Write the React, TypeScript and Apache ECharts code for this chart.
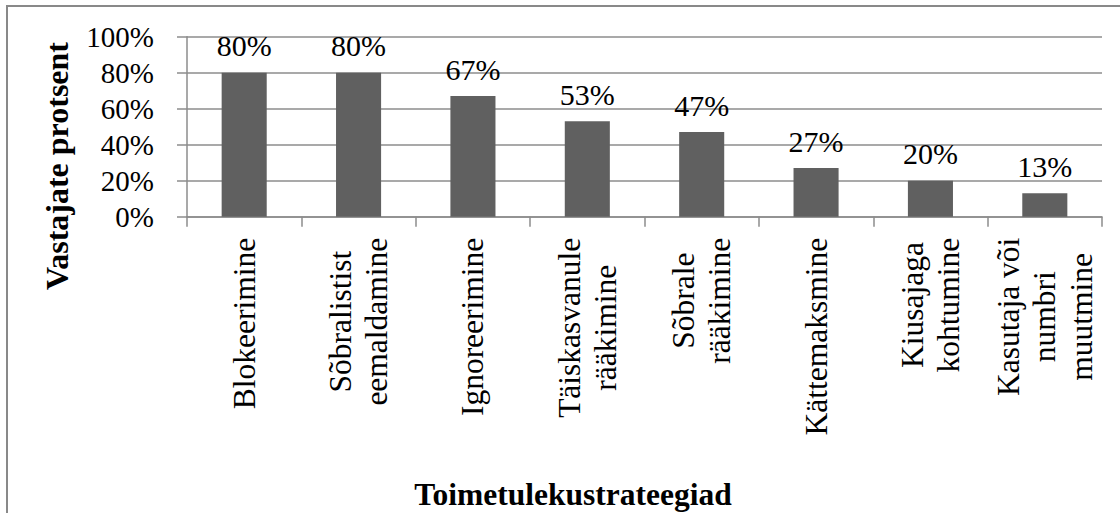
import React, { useEffect, useRef } from 'react';
import * as echarts from 'echarts';

const categories: string[] = [
  'Blokeerimine',
  'Sõbralistist\neemaldamine',
  'Ignoreerimine',
  'Täiskasvanule\nrääkimine',
  'Sõbrale\nrääkimine',
  'Kättemaksmine',
  'Kiusajaga\nkohtumine',
  'Kasutaja või\nnumbri\nmuutmine',
];
const values: number[] = [80, 80, 67, 53, 47, 27, 20, 13];
const yMin = 0;
const yMax = 100;
const yStep = 20;
const yAxisTitle = 'Vastajate protsent';
const xAxisTitle = 'Toimetulekustrateegiad';

const FONT = 'Liberation Serif';
const GRID_COLOR = '#8c8c8c';

export default function App() {
  const ref = useRef<HTMLDivElement>(null);
  useEffect(() => {
    if (!ref.current) return;
    const chart = echarts.init(ref.current, null, { renderer: 'svg' });
    chart.setOption({
      animation: false,
      backgroundColor: '#ffffff',
      textStyle: { fontFamily: FONT },
      grid: {
        left: 187,
        top: 36.7,
        width: 915,
        height: 180,
        containLabel: false,
        outerBoundsMode: 'none',
      },
      xAxis: {
        type: 'category',
        data: categories,
        boundaryGap: true,
        axisLine: { show: true, lineStyle: { color: GRID_COLOR, width: 1.5 } },
        axisTick: {
          show: true,
          length: 10,
          interval: 0,
          alignWithLabel: false,
          lineStyle: { color: GRID_COLOR, width: 1.5 },
        },
        axisLabel: {
          show: true,
          interval: 0,
          rotate: 90,
          margin: 21,
          color: '#000',
          fontFamily: FONT,
          fontSize: 31.5,
          formatter: (v: string) =>
            v
              .split('\n')
              .map((l) => `{c|${l}}`)
              .join('\n'),
          rich: {
            c: {
              align: 'center',
              fontFamily: FONT,
              fontSize: 31.5,
              lineHeight: 36.5,
              color: '#000',
            },
          },
        },
        splitLine: { show: false },
      },
      yAxis: {
        type: 'value',
        min: yMin,
        max: yMax,
        interval: yStep,
        axisLine: { show: true, lineStyle: { color: GRID_COLOR, width: 1.5 } },
        axisTick: { show: true, length: 10, lineStyle: { color: GRID_COLOR, width: 1.5 } },
        axisLabel: {
          formatter: (v: number) => `${v}%`,
          fontFamily: FONT,
          fontSize: 29,
          color: '#000',
          margin: 33,
        },
        splitLine: { show: true, lineStyle: { color: GRID_COLOR, width: 1.5 } },
      },
      series: [
        {
          type: 'bar',
          data: values,
          barWidth: '39.4%',
          itemStyle: { color: '#606060' },
          label: {
            show: true,
            position: 'top',
            distance: 12,
            formatter: (p: any) => `${p.value}%`,
            fontFamily: FONT,
            fontSize: 30,
            color: '#000',
          },
        },
      ],
      graphic: [
        {
          type: 'rect',
          z: -10,
          silent: true,
          shape: { x: 7, y: 6, width: 1130, height: 530 },
          style: { fill: 'none', stroke: '#898989', lineWidth: 2 },
        },
        {
          type: 'text',
          x: 573,
          y: 494,
          style: {
            text: xAxisTitle,
            fontFamily: FONT,
            fontWeight: 'bold',
            fontSize: 31.5,
            fill: '#000',
            align: 'center',
            verticalAlign: 'middle',
          },
        },
        {
          type: 'text',
          x: 57,
          y: 166,
          rotation: Math.PI / 2,
          style: {
            text: yAxisTitle,
            fontFamily: FONT,
            fontWeight: 'bold',
            fontSize: 32,
            fill: '#000',
            align: 'center',
            verticalAlign: 'middle',
          },
        },
      ],
    });
    return () => chart.dispose();
  }, []);
  return (
    <div
      ref={ref}
      style={{ position: 'fixed', left: 0, top: 0, width: 1120, height: 513, background: '#fff' }}
    />
  );
}
